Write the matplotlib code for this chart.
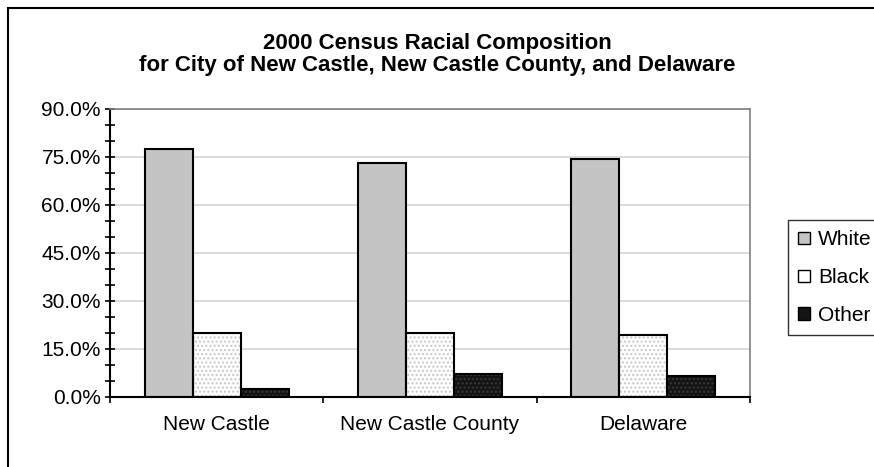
import numpy as np
import matplotlib
matplotlib.use('Agg')
import matplotlib.pyplot as plt
from matplotlib.patches import Patch, Rectangle
from matplotlib.ticker import MultipleLocator, FuncFormatter

plt.rcParams['font.family'] = ['Liberation Sans', 'DejaVu Sans']

# 数据
places = ['New Castle', 'New Castle County', 'Delaware']
races = ['White', 'Black', 'Other']
white = [77.5, 73.2, 74.5]
black = [20.1, 20.0, 19.4]
other = [2.6, 7.1, 6.5]

colors = ['#c4c4c4', '#ffffff', '#141414']
hatch_col = [None, '#c8c8c8', '#3a3a3a']

fig = plt.figure(figsize=(8.74, 4.67), dpi=100)
ax = fig.add_axes([110/874, 1-397/467, 640/874, 288/467])

x = np.arange(len(places))
w = 0.225
for k, vals in enumerate([white, black, other]):
    pos = x + (k - 1) * w
    if hatch_col[k] is not None:
        ax.bar(pos, vals, w, color=colors[k], edgecolor=hatch_col[k], hatch='....', linewidth=0, zorder=2)
    else:
        ax.bar(pos, vals, w, color=colors[k], linewidth=0, zorder=2)
    ax.bar(pos, vals, w, fill=False, edgecolor='black', linewidth=1.5, zorder=3)

ax.set_xlim(-0.5, 2.5)
ax.set_ylim(0, 90)

# y轴
ax.yaxis.set_major_locator(MultipleLocator(15))
ax.yaxis.set_minor_locator(MultipleLocator(5))
ax.yaxis.set_major_formatter(FuncFormatter(lambda v, p: '%.1f%%' % v))
ax.tick_params(axis='y', which='both', direction='inout', length=7, width=1.2, labelsize=15, pad=3)
ax.grid(axis='y', which='major', color='#d4d4d4', linewidth=1.2, zorder=0)

# x轴
ax.set_xticks([-0.5, 0.5, 1.5, 2.5])
ax.set_xticklabels([])
ax.set_xticks(x, minor=True)
ax.set_xticklabels(places, minor=True)
ax.tick_params(axis='x', which='major', direction='out', length=4, width=1.2)
ax.tick_params(axis='x', which='minor', length=0, labelsize=15, pad=13)

ax.spines['left'].set_linewidth(1.5)
ax.spines['bottom'].set_linewidth(1.5)
ax.spines['top'].set_color('#808080')
ax.spines['right'].set_color('#808080')
ax.spines['top'].set_linewidth(1.2)
ax.spines['right'].set_linewidth(1.2)

fig.text(0.5, 1-43/467, '2000 Census Racial Composition', ha='center', va='center',
         fontsize=16, fontweight='bold')
fig.text(0.5, 1-65/467, 'for City of New Castle, New Castle County, and Delaware', ha='center', va='center',
         fontsize=16, fontweight='bold')

handles = [Patch(facecolor=colors[i], edgecolor='black', linewidth=1) for i in range(3)]
leg = fig.legend(handles, races, loc='upper left', bbox_to_anchor=(788/874, 1-220/467),
                 fontsize=15, frameon=True, fancybox=False, handlelength=0.55, handleheight=0.55,
                 handletextpad=0.4, labelspacing=0.9, borderpad=0.5, borderaxespad=0)
leg.get_frame().set_edgecolor('black')
leg.get_frame().set_linewidth(1)

# 外框
fig.patches.append(Rectangle((8/874, -0.1), 1.2, 1.1 - 8/467, transform=fig.transFigure,
                             fill=False, edgecolor='black', linewidth=1.5))

fig.savefig('out.png', dpi=100)
